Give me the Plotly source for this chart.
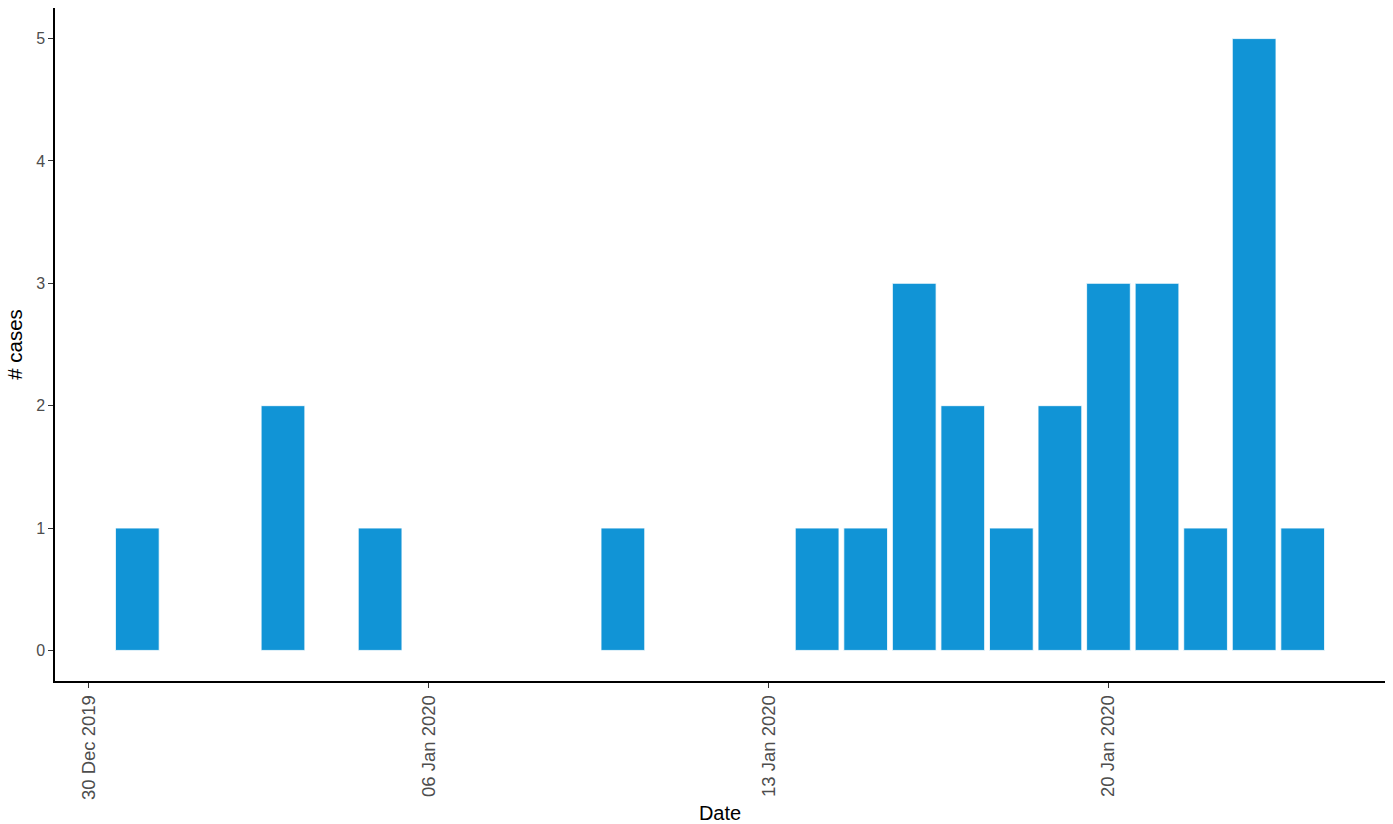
import plotly.graph_objects as go
import pandas as pd

dates = ["2019-12-31", "2020-01-03", "2020-01-05", "2020-01-10", "2020-01-14",
         "2020-01-15", "2020-01-16", "2020-01-17", "2020-01-18", "2020-01-19",
         "2020-01-20", "2020-01-21", "2020-01-22", "2020-01-23", "2020-01-24"]
cases = [1, 2, 1, 1, 1, 1, 3, 2, 1, 2, 3, 3, 1, 5, 1]
tick_dates = ["2019-12-30", "2020-01-06", "2020-01-13", "2020-01-20"]
tick_labels = ["30 Dec 2019", "06 Jan 2020", "13 Jan 2020", "20 Jan 2020"]

day_ms = 86400000
d = pd.to_datetime(dates)
span_lo = d.min() - pd.Timedelta(hours=0.45 * 24)
span_hi = d.max() + pd.Timedelta(hours=0.45 * 24)
pad = (span_hi - span_lo) * 0.05

fig = go.Figure(go.Bar(
    x=d, y=cases, width=0.9 * day_ms,
    marker=dict(color="#1194D6", line=dict(color="white", width=0.8)),
))

font = "Liberation Sans, Arial, sans-serif"
fig.update_layout(
    width=1393, height=824,
    margin=dict(l=55, r=8, t=8, b=143),
    plot_bgcolor="white", paper_bgcolor="white",
    font=dict(family=font, color="#4D4D4D"),
    showlegend=False,
    xaxis=dict(
        range=[span_lo - pad, span_hi + pad],
        tickvals=pd.to_datetime(tick_dates), ticktext=tick_labels,
        tickangle=-90, tickfont=dict(size=18.5, color="#4D4D4D"),
        ticks="outside", ticklen=5, tickcolor="#333333", tickwidth=1.2,
        showline=True, linecolor="black", linewidth=1.5,
        showgrid=False, zeroline=False, automargin=False,
        title=dict(text="Date", font=dict(size=20, color="black"), standoff=8),
    ),
    yaxis=dict(
        range=[-0.25, 5.25],
        tickvals=[0, 1, 2, 3, 4, 5],
        tickfont=dict(size=16, color="#4D4D4D"),
        ticks="outside", ticklen=5, tickcolor="#333333", tickwidth=1.2,
        showline=True, linecolor="black", linewidth=1.5,
        showgrid=False, zeroline=False, automargin=False,
        title=dict(text="# cases", font=dict(size=20.5, color="black"), standoff=8),
    ),
)

fig.write_html("out.html", config={"displayModeBar": False},
               post_script="document.body.style.margin='0';")
